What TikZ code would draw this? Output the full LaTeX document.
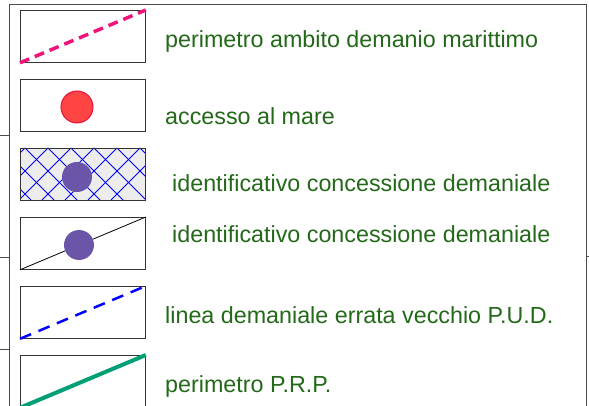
\documentclass[tikz,border=0pt]{standalone}
\usepackage{xcolor}
\usepackage{fontspec}
\setmainfont{Liberation Sans}
\usepackage{tikz}
\definecolor{testo}{RGB}{35,105,25}
\definecolor{rosa}{HTML}{F0147A}
\definecolor{rosso}{HTML}{FF4444}
\definecolor{bordorosso}{HTML}{E8103A}
\definecolor{viola}{HTML}{6A55A8}
\definecolor{verde}{HTML}{00A077}

\begin{document}
\begin{tikzpicture}[x=1pt, y=-1pt,
        swatch/.style={draw=black!80, line width=0.8pt, minimum width=125pt, minimum height=52pt, inner sep=0pt, anchor=north west},
        voce/.style={anchor=base west, text=testo, inner sep=0pt, font=\fontsize{23.3}{28}\selectfont},
        frame/.style={draw=black!70, line width=0.8pt},
        dot/.style={circle, inner sep=0pt}]
        \useasboundingbox (0,0) rectangle (589,406);
        % Cornice esterna
        \draw[frame] (9,406) -- (9,4) -- (586,4) -- (586,406);
        \draw[frame] (0,135) -- (9,135) (0,257) -- (9,257) (0,349) -- (9,349) (586,256) -- (589,256);
        % Riquadri della legenda
        \node[swatch] (s1) at (20,10) {};
        \node[swatch] (s2) at (20,79) {};
        \node[swatch, fill=black!7] (s3) at (20,148) {};
        \node[swatch] (s4) at (20,217) {};
        \node[swatch] (s5) at (20,286) {};
        \node[swatch] (s6) at (20,355) {};
        % Perimetro demanio
        \draw[rosa, line width=3.5pt, dash pattern=on 10pt off 6pt] (s1.south west) -- (s1.north east);
        % Accesso al mare
        \node[dot, minimum size=32pt, fill=rosso, draw=bordorosso, line width=1pt] (c2) at (77,107) {};
        % Concessione con retino
        \begin{scope}
            \clip (s3.south west) rectangle (s3.north east);
            \foreach \i in {-3,...,6} {
                \draw[blue, line width=0.8pt] (25+\i*23,148) -- ++(52,52);
                \draw[blue, line width=0.8pt] (25+\i*23,148) -- ++(-52,52);
            }
        \end{scope}
        \draw[black!80, line width=0.8pt] (s3.south west) rectangle (s3.north east);
        \node[dot, minimum size=30pt, fill=viola] (c3) at (77,177) {};
        % Concessione semplice
        \draw[black, line width=0.8pt] (s4.south west) -- (s4.north east);
        \node[dot, minimum size=30pt, fill=viola] (c4) at (79,245) {};
        % Linea demaniale errata
        \draw[blue, line width=2.5pt, dash pattern=on 12pt off 8pt] (s5.south west) -- (s5.north east);
        % Perimetro P.R.P.
        \draw[verde, line width=4pt] (s6.south west) -- (s6.north east);
        % Testi
        \node[voce] (t1) at (165,48) {perimetro ambito demanio marittimo};
        \node[voce] (t2) at (165,125) {accesso al mare};
        \node[voce] (t3) at (172,192) {identificativo concessione demaniale};
        \node[voce] (t4) at (172,243) {identificativo concessione demaniale};
        \node[voce] (t5) at (165,323) {linea demaniale errata vecchio P.U.D.};
        \node[voce] (t6) at (165,392) {perimetro P.R.P.};
    \end{tikzpicture}
\end{document}
